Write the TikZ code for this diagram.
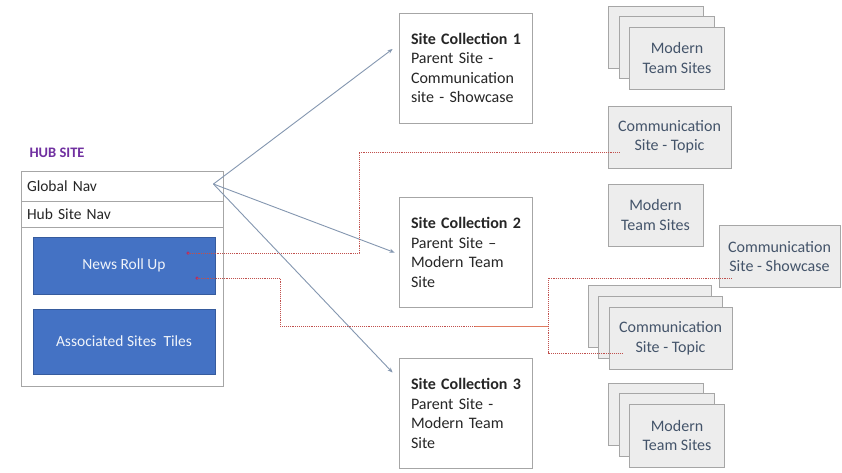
\documentclass[tikz,border=0pt]{standalone}
\usepackage{fontspec}
\setmainfont{Carlito}
\usetikzlibrary{arrows.meta,calc}
\pgfdeclarelayer{bg}
\pgfsetlayers{bg,main}
\definecolor{txt}{HTML}{262626}
\definecolor{ctxt}{HTML}{44546A}
\definecolor{cfill}{HTML}{EDEDED}
\definecolor{cdraw}{HTML}{A6A6A6}
\definecolor{blueb}{HTML}{4472C4}
\definecolor{hubp}{HTML}{7030A0}
\definecolor{arrc}{HTML}{8497B0}
\definecolor{redd}{HTML}{C0504D}
\definecolor{redsolid}{HTML}{E07A5F}
\definecolor{dotc}{HTML}{B0306A}
\definecolor{treec}{HTML}{9CA3AD}
\begin{document}
\begin{tikzpicture}[x=1pt,y=-1pt,
  scbox/.style={draw=cdraw, fill=white, line width=0.9pt, text=txt, align=left,
    text width=109pt, inner xsep=12pt, inner ysep=0pt, minimum width=133pt, minimum height=110pt,
    font=\fontsize{16}{19.5}\selectfont},
  child/.style={draw=cdraw, fill=cfill, line width=0.9pt, text=ctxt, align=center,
    inner sep=0pt, minimum width=95pt, minimum height=62pt, font=\fontsize{16}{19.5}\selectfont},
  wchild/.style={child, minimum width=123pt},
  navrow/.style={draw=cdraw, fill=white, line width=0.9pt, text=txt, align=left,
    text width=190pt, inner xsep=6pt, inner ysep=0pt, minimum width=202pt,
    font=\fontsize{15.5}{18}\selectfont},
  bluebox/.style={fill=blueb, draw=blueb!80!black, line width=0.4pt, text=white!92!blueb,
    minimum width=182pt, inner sep=0pt, font=\fontsize{15.5}{18}\selectfont},
  arrowline/.style={draw=arrc, line width=0.9pt, -{Stealth[length=5pt,width=4pt]}},
  treeline/.style={draw=treec, line width=0.9pt},
  reddot/.style={draw=redd, line width=0.9pt, densely dotted},
  startdot/.style={fill=dotc, draw=none, circle, inner sep=0pt, minimum size=3.5pt}
]
\useasboundingbox (0,0) rectangle (842,472);
\fill[white] (0,0) rectangle (842,472);

% Hub site
\node[anchor=west, text=hubp, font=\bfseries\fontsize{14.5}{17}\selectfont] (hubtitle) at (26,153) {HUB SITE};
\node[draw=cdraw, fill=white, line width=0.9pt, minimum width=202pt, minimum height=215pt, inner sep=0pt] (hub) at (122,278.5) {};
\node[navrow, minimum height=30pt] (gnav) at (122,186) {Global Nav};
\node[navrow, minimum height=26pt] (hnav) at (122,214) {Hub Site Nav};
\node[bluebox, minimum height=57pt] (news) at (124,265.5) {News Roll Up};
\node[bluebox, minimum height=65pt] (assoc) at (124,341.5) {Associated Sites~ Tiles};

% Site collections
\node[scbox] (sc1) at (465.5,68) {\mbox{\textbf{Site Collection 1}}\\Parent Site -\\Communication\\site - Showcase};
\node[scbox] (sc2) at (465.5,252.5) {\mbox{\textbf{Site Collection 2}}\\Parent Site --\\Modern Team\\Site};
\node[scbox] (sc3) at (465.5,413.5) {\mbox{\textbf{Site Collection 3}}\\Parent Site -\\Modern Team\\Site};

% SC1 children
\node[child] (m1a) at (655.5,37) {};
\node[child] (m1b) at (666.5,47.5) {};
\node[child] (m1) at (677,58) {Modern\\Team Sites};
\node[wchild] (t1) at (669.5,137) {Communication\\Site - Topic};

% SC2 children
\node[child] (m2) at (655.5,215) {Modern\\Team Sites};
\node[wchild, minimum width=121pt] (show) at (779.5,256.5) {Communication\\Site - Showcase};
\node[wchild] (t2a) at (649.5,316) {};
\node[wchild, minimum width=124pt] (t2b) at (660,327) {};
\node[wchild] (t2) at (670.5,338) {Communication\\Site - Topic};

% SC3 children
\node[child] (m3a) at (655.5,414) {};
\node[child, minimum height=63pt] (m3b) at (666.5,424.5) {};
\node[child, minimum height=63pt] (m3) at (677,435.5) {Modern\\Team Sites};

% tree connectors (behind)
\begin{pgfonlayer}{bg}
  \draw[treeline] (sc1.east) -- ++(41,0);
  \draw[treeline] (m1a.west) -| ($(sc1.east)+(41,0)$) |- (t1.west);
  \draw[treeline] (sc2.east) -- (sc2.east -| show.west);
  \draw[treeline] (m2.west) -| ($(sc2.east)+(40,0)$) |- (t2b.west);
  \draw[treeline] (sc3.east) -- (m3a.west);
\end{pgfonlayer}

% arrows from Global Nav
\coordinate (gn) at ($(gnav.east)+(-10,-2)$);
\coordinate (a1) at ($(sc1.west)+(-6,-19)$);
\coordinate (a2) at ($(sc2.west)+(-4,0)$);
\coordinate (a3) at ($(sc3.west)+(-6,-41)$);
\draw[arrowline] (gn) -- (a1);
\draw[arrowline] (gn) -- (a2);
\draw[arrowline] (gn) -- (a3);

% red dotted links
\node[startdot] (n1) at (188,253) {};
\node[startdot] (n2) at (197,278) {};
\coordinate (r1) at (359,152);
\coordinate (r1e) at (620,152);
\draw[reddot] (n1.center) -| (r1) -- (r1e);
\coordinate (r2a) at (280,326);
\coordinate (r2b) at (475,326);
\coordinate (r2c) at (548,326);
\coordinate (r2up) at (548,278);
\coordinate (r2dn) at (548,353);
\coordinate (r2s) at (732,278);
\coordinate (r2t) at (623,353);
\draw[reddot] (n2.center) -| (r2a) -- (r2b);
\draw[draw=redsolid, line width=0.9pt] (r2b) -- (r2c);
\draw[reddot] (r2s) -- (r2up) -- (r2dn) -- (r2t);
\end{tikzpicture}
\end{document}
